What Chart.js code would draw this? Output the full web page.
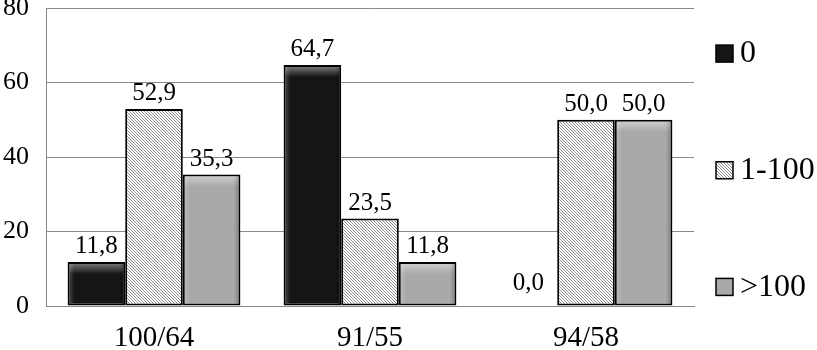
<!DOCTYPE html>
<html>
<head>
<meta charset="utf-8">
<script src="https://cdn.jsdelivr.net/npm/chart.js@4/dist/chart.umd.min.js"></script>
<style>
  html, body { margin: 0; padding: 0; background: #fff; }
  #wrap { width: 817px; height: 350px; }
</style>
</head>
<body>
<div id="wrap"><canvas id="chart"></canvas></div>
<script>
const categories = ["100/64", "91/55", "94/58"];
const seriesNames = ["0", "1-100", ">100"];
const zeroValues = [11.8, 64.7, 0.0];
const midValues = [52.9, 23.5, 50.0];
const highValues = [35.3, 11.8, 50.0];
const yTicks = [0, 20, 40, 60, 80];

const serif = "'Liberation Serif', 'Times New Roman', serif";

// diagonal hatch for the 1-100 series
function hatchPattern() {
  const n = 3;
  const c = document.createElement("canvas");
  c.width = n;
  c.height = n;
  const g = c.getContext("2d");
  g.fillStyle = "#ffffff";
  g.fillRect(0, 0, n, n);
  g.strokeStyle = "#8c8c8c";
  g.lineWidth = 1;
  g.beginPath();
  g.moveTo(0, 0); g.lineTo(n, n);
  g.moveTo(-1, n - 1); g.lineTo(1, n + 1);
  g.moveTo(n - 1, -1); g.lineTo(n + 1, 1);
  g.stroke();
  return g.createPattern(c, "repeat");
}

const ctx = document.getElementById("chart").getContext("2d");
const hatch = hatchPattern();
const fills = ["#151515", hatch, "#a9a9a9"];
const bevel = [true, false, true];

// value labels above bars, comma decimals
const valueLabels = {
  id: "valueLabels",
  afterDatasetsDraw(chart) {
    const c = chart.ctx;
    c.save();
    c.font = "25px " + serif;
    c.fillStyle = "#000";
    c.textAlign = "center";
    c.textBaseline = "bottom";
    chart.data.datasets.forEach((ds, i) => {
      chart.getDatasetMeta(i).data.forEach((bar, j) => {
        const txt = ds.data[j].toFixed(1).replace(".", ",");
        const off = ds.data[j] === 0 ? 10 : 3;
        c.fillText(txt, bar.x, bar.y - off);
      });
    });
    c.restore();
  },
};

// soft bevel on the solid bars
const barBevel = {
  id: "barBevel",
  afterDatasetsDraw(chart) {
    const c = chart.ctx;
    c.save();
    chart.data.datasets.forEach((ds, i) => {
      if (!bevel[i]) return;
      chart.getDatasetMeta(i).data.forEach((bar) => {
        const h = bar.base - bar.y;
        if (h < 4) return;
        const l = bar.x - bar.width / 2 + 2;
        const r = bar.x + bar.width / 2 - 2;
        const t = bar.y + 2;
        const gr = c.createLinearGradient(0, t, 0, t + 10);
        gr.addColorStop(0, "rgba(255,255,255,0.4)");
        gr.addColorStop(1, "rgba(255,255,255,0)");
        c.fillStyle = gr;
        c.fillRect(l, t, r - l, Math.min(10, h - 4));
        const sl = c.createLinearGradient(l, 0, l + 5, 0);
        sl.addColorStop(0, "rgba(255,255,255,0.18)");
        sl.addColorStop(1, "rgba(255,255,255,0)");
        c.fillStyle = sl;
        c.fillRect(l, t, 5, h - 4);
        const sr = c.createLinearGradient(r - 5, 0, r, 0);
        sr.addColorStop(0, "rgba(0,0,0,0)");
        sr.addColorStop(1, "rgba(0,0,0,0.18)");
        c.fillStyle = sr;
        c.fillRect(r - 5, t, 5, h - 4);
      });
    });
    c.restore();
  },
};

// legend on the right, items spread down the side
const sideLegend = {
  id: "sideLegend",
  afterDraw(chart) {
    const c = chart.ctx;
    const x = chart.chartArea.right + 22;
    const mid = chart.height * 0.485;
    const step = chart.height / 3;
    c.save();
    c.font = "32px " + serif;
    c.textBaseline = "middle";
    seriesNames.forEach((name, i) => {
      const y = mid + (i - 1) * step;
      c.fillStyle = fills[i];
      c.fillRect(x, y - 8, 17, 17);
      c.strokeStyle = "#000";
      c.lineWidth = 1.5;
      c.strokeRect(x, y - 8, 17, 17);
      c.fillStyle = "#000";
      c.fillText(name, x + 24, y + 1);
    });
    c.restore();
  },
};

new Chart(ctx, {
  type: "bar",
  data: {
    labels: categories,
    datasets: [zeroValues, midValues, highValues].map((vals, i) => ({
      label: seriesNames[i],
      data: vals,
      backgroundColor: fills[i],
      borderColor: "#000",
      borderWidth: 2,
      borderSkipped: false,
    })),
  },
  options: {
    responsive: true,
    maintainAspectRatio: false,
    animation: false,
    categoryPercentage: 0.8,
    barPercentage: 1,
    layout: {
      padding: { left: 0, right: 123, top: 8, bottom: 0 },
    },
    plugins: {
      legend: { display: false },
      tooltip: { enabled: false },
    },
    scales: {
      x: {
        grid: { display: false },
        border: { color: "#888", width: 1 },
        afterFit: (scale) => {
          scale.height = 44;
        },
        ticks: {
          color: "#000",
          padding: 7,
          font: { family: serif, size: 29 },
        },
      },
      y: {
        min: 0,
        max: 80,
        afterBuildTicks: (scale) => {
          scale.ticks = yTicks.map((v) => ({ value: v }));
        },
        afterFit: (scale) => {
          scale.width = 46;
          scale.paddingTop = 0;
        },
        grid: { color: "#888", drawTicks: false },
        border: { color: "#888", width: 1 },
        ticks: {
          color: "#000",
          padding: 17,
          font: { family: serif, size: 26 },
        },
      },
    },
  },
  plugins: [valueLabels, barBevel, sideLegend],
});
</script>
</body>
</html>
